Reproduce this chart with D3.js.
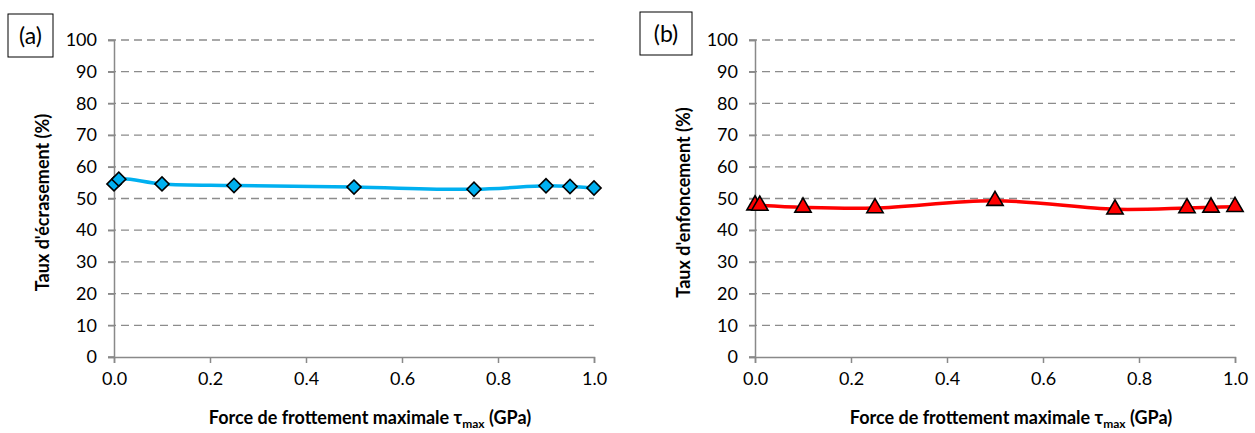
<!DOCTYPE html>
<html>
<head>
<meta charset="utf-8">
<script src="https://cdn.jsdelivr.net/npm/d3@7"></script>
<style>
  html, body { margin: 0; padding: 0; background: #fff; }
  svg { display: block; }
  text { font-family: Lato, "Open Sans", sans-serif; fill: #000; }
</style>
</head>
<body>
<svg id="chart" width="1255" height="433"></svg>
<script>
// ---- Data ----
const tauMax = [0, 0.01, 0.1, 0.25, 0.5, 0.75, 0.9, 0.95, 1.0];
const crushRate = [54.6, 56.1, 54.6, 54.1, 53.6, 52.9, 54.0, 53.8, 53.3];
const sinkRate = [47.9, 47.8, 47.2, 47.0, 49.3, 46.6, 47.0, 47.2, 47.4];
const xTickValues = [0, 0.2, 0.4, 0.6, 0.8, 1.0];
const yTickValues = [0, 10, 20, 30, 40, 50, 60, 70, 80, 90, 100];
const panelLabels = ["(a)", "(b)"];
const yTitles = ["Taux d'écrasement (%)", "Taux d'enfoncement (%)"];
const xTitle = "Force de frottement maximale τ";

const svg = d3.select("#chart");
const axisColor = "#898989";

const panels = [
  { x0: 114, x1: 594, y0: 357, y1: 40, values: crushRate, color: "#00B0F0", marker: "diamond",
    label: panelLabels[0], yTitle: yTitles[0], box: [8, 14, 45, 43], yTitleX: 43 },
  { x0: 755, x1: 1235, y0: 357, y1: 40, values: sinkRate, color: "#FF0000", marker: "triangle",
    label: panelLabels[1], yTitle: yTitles[1], box: [640, 12, 52, 43], yTitleX: 684 }
];

panels.forEach(p => {
  const g = svg.append("g");
  const x = d3.scaleLinear().domain([0, 1]).range([p.x0, p.x1]);
  const y = d3.scaleLinear().domain([0, 100]).range([p.y0, p.y1]);

  // gridlines
  g.selectAll(".grid").data(yTickValues.filter(v => v > 0)).enter().append("line")
    .attr("x1", p.x0 - 6).attr("x2", p.x1)
    .attr("y1", d => y(d)).attr("y2", d => y(d))
    .attr("stroke", "#8c8c8c").attr("stroke-width", 1.3)
    .attr("stroke-dasharray", "8,5");

  // y axis
  const yAxis = g.append("g").attr("transform", `translate(${p.x0},0)`)
    .call(d3.axisLeft(y).tickValues(yTickValues).tickSize(6).tickPadding(11).tickFormat(d3.format("d")));
  yAxis.select(".domain").attr("stroke", axisColor).attr("stroke-width", 1.5);
  yAxis.selectAll(".tick line").attr("stroke", axisColor).attr("stroke-width", 1.5);
  yAxis.selectAll(".tick text").style("font-size", "18px").attr("fill", "#000");

  // x axis
  const xAxis = g.append("g").attr("transform", `translate(0,${p.y0})`)
    .call(d3.axisBottom(x).tickValues(xTickValues).tickSize(6).tickSizeOuter(6).tickPadding(9).tickFormat(d3.format(".1f")));
  xAxis.select(".domain").attr("stroke", axisColor).attr("stroke-width", 1.5);
  xAxis.selectAll(".tick line").attr("stroke", axisColor).attr("stroke-width", 1.5);
  xAxis.selectAll(".tick text").style("font-size", "18px").attr("fill", "#000");
  // extend x-axis line left to y tick
  g.append("line").attr("x1", p.x0 - 6).attr("x2", p.x0).attr("y1", p.y0).attr("y2", p.y0)
    .attr("stroke", axisColor).attr("stroke-width", 1.5);

  // line
  const pts = tauMax.map((t, i) => [t, p.values[i]]);
  const line = d3.line().x(d => x(d[0])).y(d => y(d[1])).curve(d3.curveCatmullRom.alpha(0.5));
  g.append("path").datum(pts).attr("d", line)
    .attr("fill", "none").attr("stroke", p.color).attr("stroke-width", 3.5);

  // markers
  const sym = p.marker === "diamond"
    ? d3.symbol().type(d3.symbolSquare).size(100)
    : d3.symbol().type(d3.symbolTriangle).size(115);
  g.selectAll(".pt").data(pts).enter().append("path")
    .attr("d", sym)
    .attr("transform", d => `translate(${x(d[0])},${y(d[1])})` + (p.marker === "diamond" ? " rotate(45)" : ""))
    .attr("fill", p.color).attr("stroke", "#000").attr("stroke-width", 1.6);

  // x title
  const xt = g.append("text").attr("x", (p.x0 + p.x1) / 2 + 16).attr("y", 424)
    .attr("text-anchor", "middle").style("font-size", "18px").style("font-weight", "bold");
  xt.append("tspan").text(xTitle);
  xt.append("tspan").text("max").attr("dy", 4).style("font-size", "12px");
  xt.append("tspan").text(" (GPa)").attr("dy", -4);

  // y title
  g.append("text").attr("transform", `translate(${p.yTitleX},${(p.y0 + p.y1) / 2 + 4}) rotate(-90)`)
    .attr("text-anchor", "middle").attr("dy", "0.35em")
    .style("font-size", "18px").style("font-weight", "bold").text(p.yTitle);

  // panel label box
  g.append("rect").attr("x", p.box[0]).attr("y", p.box[1]).attr("width", p.box[2]).attr("height", p.box[3])
    .attr("fill", "#fff").attr("stroke", "#000").attr("stroke-width", 1);
  g.append("text").attr("x", p.box[0] + p.box[2] / 2).attr("y", p.box[1] + p.box[3] / 2)
    .attr("text-anchor", "middle").attr("dy", "0.35em").style("font-size", "23px").text(p.label);
});
</script>
</body>
</html>
